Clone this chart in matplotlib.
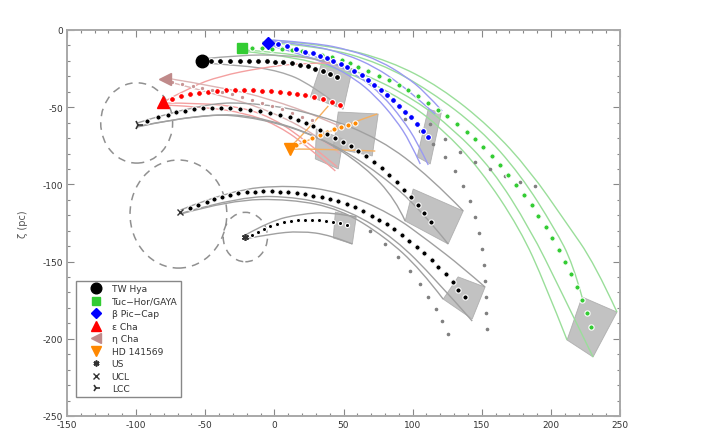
import matplotlib
matplotlib.use('Agg')
import matplotlib.pyplot as plt
from matplotlib.patches import Polygon, Ellipse, PathPatch
from matplotlib.path import Path
from matplotlib.lines import Line2D
from matplotlib.ticker import MultipleLocator

plt.rcParams['axes.unicode_minus'] = False

# present-day positions (xi, zeta) in pc
names = ['TW Hya', 'Tuc\u2212Hor/GAYA', '\u03b2 Pic\u2212Cap', '\u03b5 Cha', '\u03b7 Cha',
         'HD 141569', 'US', 'UCL', 'LCC']
start_xi = [-52.7, -23.1, -4.3, -80.2, -78.8, 11.6, -21.0, -67.9, -99.0]
start_zeta = [-20.1, -11.7, -8.4, -46.6, -31.7, -77.1, -134.1, -117.9, -61.5]

# traced-back centre orbits (one dot per step)
twhya_xi = [-45.5, -39.0, -31.8, -24.6, -18.1, -11.6, -5.1, 0.7, 6.5, 13.0, 18.8, 24.6, 29.6, 35.4, 40.5, 45.5]
twhya_zeta = [-20.1, -20.1, -20.1, -20.1, -20.1, -20.1, -20.1, -20.7, -20.7, -21.4, -22.7, -23.3, -25.3, -26.6, -28.5, -30.4]

tuchor_xi = [-15.9, -8.7, -1.4, 5.8, 13.0, 20.2, 27.5, 34.7, 41.9, 49.1, 54.9, 60.7, 67.9, 75.9, 83.1, 90.3,
             96.8, 104.0, 111.3, 118.5, 125.0, 132.2, 139.4, 145.2, 151.0, 157.5, 163.3, 169.1, 174.8, 180.6,
             186.4, 190.7, 196.5, 200.9, 205.9, 210.2, 214.6, 218.9, 222.5, 226.1, 229.0]
tuchor_zeta = [-11.7, -11.7, -12.3, -12.3, -13.0, -13.6, -14.9, -16.2, -17.5, -19.4, -21.4, -24.0, -26.6, -29.8,
               -32.4, -35.6, -38.9, -42.7, -47.3, -51.8, -55.7, -60.9, -66.1, -70.6, -75.8, -81.6, -87.4, -93.9,
               -100.4, -106.9, -113.3, -120.5, -127.6, -134.7, -142.5, -150.3, -158.1, -166.5, -174.9, -183.3, -192.4]

bpic_xi = [2.9, 9.4, 15.9, 22.4, 28.2, 33.2, 38.3, 42.6, 48.4, 52.7, 57.8, 63.6, 67.9, 72.3, 77.3, 81.6, 86.0,
           90.3, 94.6, 99.0, 103.3, 107.7, 111.3]
bpic_zeta = [-9.1, -10.4, -12.3, -14.2, -14.9, -16.8, -18.1, -20.1, -22.0, -24.0, -26.6, -29.1, -32.4, -35.6,
             -38.9, -42.1, -45.3, -49.2, -53.1, -56.3, -60.9, -65.4, -69.3]

echa_xi = [-73.7, -67.2, -60.7, -54.2, -47.7, -41.2, -34.7, -28.2, -21.7, -15.2, -8.7, -2.2, 4.3, 10.8, 16.6,
           22.4, 28.9, 35.4, 41.9, 47.7]
echa_zeta = [-44.7, -42.7, -41.5, -40.8, -40.2, -39.5, -38.9, -38.9, -38.9, -38.9, -39.5, -39.5, -40.2, -40.8,
             -41.5, -42.1, -43.4, -44.7, -46.6, -48.6]

etacha_xi = [-73.7, -66.5, -59.2, -52.0, -44.8, -37.6, -30.3, -23.1, -15.9, -8.7, -1.4, 5.8, 13.0, 20.2, 27.5]
etacha_zeta = [-33.7, -35.0, -36.3, -37.6, -38.9, -40.2, -41.5, -43.4, -45.3, -47.3, -49.2, -51.2, -53.8, -56.4, -58.3]

hd_xi = [15.9, 21.7, 27.5, 33.2, 38.3, 43.4, 48.4, 53.5, 58.5]
hd_zeta = [-74.5, -71.9, -70.0, -68.0, -66.1, -64.1, -62.8, -61.5, -60.2]

us_xi = [-15.9, -11.6, -7.2, -2.9, 2.2, 7.2, 12.3, 17.3, 22.4, 27.5, 32.5, 37.6, 42.6, 47.7, 52.7]
us_zeta = [-132.8, -130.8, -128.9, -126.9, -125.7, -124.4, -123.7, -123.1, -123.1, -123.1, -123.1, -123.7,
           -124.4, -125.0, -126.3]

ucl_xi = [-60.7, -54.9, -48.4, -43.4, -37.6, -31.8, -26.0, -19.5, -13.7, -7.9, -1.4, 4.3, 10.1, 16.6, 22.4,
          28.2, 34.7, 40.5, 46.2, 52.7, 58.5, 64.3, 70.8, 75.9, 81.6, 86.7, 92.5, 97.5, 103.3, 108.4, 114.2,
          118.5, 124.3, 129.3, 132.9, 138.0]
ucl_zeta = [-115.3, -113.3, -111.4, -109.5, -108.2, -106.9, -105.6, -104.9, -104.9, -104.3, -104.3, -104.9,
            -104.9, -105.6, -106.2, -107.5, -108.2, -109.5, -110.8, -112.7, -114.6, -117.2, -120.5, -123.1,
            -125.7, -128.9, -132.8, -136.7, -140.5, -144.4, -149.0, -153.5, -158.0, -163.2, -168.4, -172.9]

lcc_xi = [-91.8, -84.5, -77.3, -70.8, -64.3, -57.8, -51.3, -44.8, -38.3, -31.8, -24.6, -17.3, -10.1, -2.9, 4.3,
          11.6, 17.3, 23.1, 28.2, 33.2, 38.3, 44.1, 49.9, 55.6, 60.7, 66.5, 72.3, 78.0, 83.1, 88.9, 93.9, 99.0,
          104.0, 108.4, 113.4]
lcc_zeta = [-58.9, -56.4, -55.1, -53.1, -52.5, -51.2, -50.5, -50.5, -50.5, -50.5, -51.2, -51.8, -52.5, -53.8,
            -55.1, -56.4, -58.3, -60.2, -62.2, -64.8, -67.4, -70.0, -72.5, -75.1, -78.4, -81.6, -85.5, -89.4,
            -93.9, -98.4, -103.6, -108.2, -113.3, -118.5, -124.4]

# envelope orbits (xi list, zeta list)
tuchor_env = [
    ([-24.6, 18.8, 62.1, 98.3, 121.4, 148.8, 177.7, 195.8, 211.7], [-13.6, -17.5, -30.4, -47.9, -64.1, -90.0, -128.9, -164.5, -200.8]),
    ([-21.0, 22.4, 65.7, 101.9, 129.3, 157.5, 185.0, 206.6, 230.5], [-13.0, -15.5, -28.5, -45.3, -64.1, -90.0, -128.9, -167.8, -211.8]),
    ([-8.7, 33.2, 76.6, 112.7, 148.8, 177.7, 203.0, 216.0, 222.5], [-7.8, -10.4, -21.4, -39.5, -64.1, -93.3, -128.9, -151.6, -172.9]),
    ([-4.3, 40.5, 83.8, 119.9, 156.1, 185.0, 210.2, 231.9, 247.8], [-6.5, -9.7, -20.1, -36.9, -62.8, -91.3, -123.7, -151.6, -182.7]),
]
bpic_env = [
    ([-4.3, 18.8, 40.5, 58.5, 73.0, 87.4, 98.3, 105.5], [-9.7, -15.5, -22.7, -31.7, -42.7, -57.6, -72.5, -86.8]),
    ([-2.9, 22.4, 44.1, 62.1, 78.0, 92.5, 103.3, 111.3], [-9.1, -14.9, -22.0, -30.4, -42.1, -57.6, -72.5, -87.4]),
    ([-2.9, 26.0, 51.3, 73.0, 91.0, 105.5, 116.3], [-7.1, -9.7, -15.5, -24.0, -35.0, -46.0, -54.4]),
    ([-1.4, 29.6, 54.9, 76.6, 94.6, 109.1, 121.4], [-6.5, -8.4, -13.0, -20.1, -29.8, -40.2, -52.5]),
]
twhya_env = [
    ([-52.7, -24.6, 4.3, 33.2, 56.4], [-18.8, -16.2, -16.2, -18.8, -25.3]),
    ([-52.7, -24.6, 4.3, 26.0, 49.8], [-21.4, -22.7, -26.6, -35.0, -51.2]),
]
echa_env = [
    ([-80.2, -60.7, -39.0, -10.1, 18.8, 40.5], [-46.6, -36.9, -29.8, -24.6, -21.4, -21.4]),
    ([-80.2, -53.5, -24.6, -2.9, 18.8, 45.5], [-47.3, -47.3, -49.9, -56.4, -68.7, -88.7]),
    ([-78.8, -49.9, -21.0, 0.7, 22.4, 44.1], [-48.6, -49.9, -53.8, -61.0, -73.9, -91.3]),
]
etacha_env = [
    ([-78.8, -39.0, -2.9, 33.2, 51.3], [-31.1, -36.9, -44.7, -56.4, -64.1]),
    ([-78.8, -39.0, -2.9, 29.6, 47.7], [-33.0, -42.1, -52.5, -67.4, -80.3]),
]
hd_env = [
    ([11.6, 26.0, 39.0], [-75.8, -62.8, -49.2]),
    ([11.6, 40.5, 74.4], [-76.4, -64.8, -54.4]),
    ([11.6, 40.5, 73.0], [-77.1, -77.1, -78.4]),
]
us_env = [
    ([-21.0, -2.9, 18.8, 40.5, 59.2], [-132.8, -123.7, -119.2, -117.9, -121.1]),
    ([-21.0, -2.9, 18.8, 40.5, 56.4], [-135.3, -132.1, -130.2, -132.8, -138.6]),
]
ucl_env = [
    ([-67.9, -31.8, 11.6, 47.7, 83.8, 112.7, 135.8, 152.4], [-116.6, -103.6, -100.4, -104.9, -118.5, -137.4, -153.5, -166.5]),
    ([-67.9, -31.8, 11.6, 47.7, 80.2, 105.5, 122.1], [-119.2, -110.1, -109.5, -116.0, -134.1, -154.8, -174.3]),
    ([-66.5, -24.6, 18.8, 54.9, 87.4, 116.3, 143.1], [-118.5, -107.5, -108.2, -117.2, -135.3, -161.2, -188.5]),
]
lcc_env = [
    ([-99.0, -53.5, -10.1, 33.2, 76.6, 112.7, 136.6], [-60.2, -47.3, -47.3, -55.1, -70.6, -95.2, -117.2]),
    ([-99.0, -53.5, -10.1, 33.2, 65.7, 87.4, 94.6], [-62.8, -53.8, -57.0, -69.3, -88.7, -109.5, -123.7]),
    ([-97.5, -46.2, -2.9, 40.5, 76.6, 105.5, 125.7], [-62.2, -53.1, -57.7, -72.5, -93.3, -116.0, -138.6]),
]

# alternative (sparse) orbit solutions
alt_a_xi = [94.6, 105.5, 114.9, 123.5, 130.8, 136.6, 141.6, 145.2, 148.1, 150.3, 151.7, 152.4, 153.2, 153.2, 153.9]
alt_a_zeta = [-57.6, -65.4, -73.8, -82.3, -91.3, -101.0, -110.8, -121.1, -131.5, -141.8, -152.2, -162.5, -172.9, -183.3, -193.7]
alt_b_xi = [69.4, 80.2, 89.6, 98.3, 105.5, 111.3, 117.0, 121.4, 125.7]
alt_b_zeta = [-130.2, -138.6, -147.0, -156.1, -164.5, -172.9, -180.7, -188.5, -196.9]
alt_c_xi = [112.7, 123.5, 134.4, 145.2, 156.1, 166.9, 177.7, 188.6]
alt_c_zeta = [-60.9, -70.6, -79.0, -85.5, -90.0, -94.6, -98.4, -101.0]

# spread of each group at the end of the integration
end_boxes = [
    [(222.5, -172.9), (247.8, -182.7), (230.5, -211.8), (211.7, -200.8)],
    [(111.3, -51.2), (120.7, -53.7), (112.7, -86.8), (103.3, -82.2)],
    [(34.7, -20.1), (56.4, -25.3), (49.8, -51.2), (26.0, -43.4)],
    [(30.3, -64.1), (49.8, -70.6), (46.2, -90.0), (29.6, -83.5)],
    [(46.2, -53.1), (75.1, -54.4), (70.8, -81.6), (42.6, -76.4)],
    [(44.1, -117.9), (59.2, -121.1), (56.4, -138.6), (42.6, -134.7)],
    [(132.9, -159.9), (152.4, -166.5), (143.1, -187.2), (122.1, -174.3)],
    [(100.4, -103.0), (136.6, -117.2), (125.7, -138.6), (94.6, -123.7)],
]

# Sco-Cen subgroup extents: centre and radius (pc)
sc_centre_xi = [-21.0, -69.4, -99.6]
sc_centre_zeta = [-134.1, -119.2, -60.2]
sc_radius = [16.0, 35.0, 26.0]


def smooth_curve(xs, zs):
    # quadratic Bezier through the orbit vertices (vertices act as control points)
    pts = list(zip(xs, zs))
    verts = [pts[0]]
    codes = [Path.MOVETO]
    for i in range(1, len(pts) - 1):
        mid = ((pts[i][0] + pts[i + 1][0]) / 2, (pts[i][1] + pts[i + 1][1]) / 2)
        if i == len(pts) - 2:
            mid = pts[i + 1]
        verts += [pts[i], mid]
        codes += [Path.CURVE3, Path.CURVE3]
    if len(pts) == 2:
        verts.append(pts[1])
        codes.append(Path.LINETO)
    return Path(verts, codes)


fig = plt.figure(figsize=(7.25, 4.31), dpi=100)
ax = fig.add_axes([0.0924, 0.0325, 0.7628, 0.8956])

for box in end_boxes:
    ax.add_patch(Polygon(box, closed=True, facecolor='#b8b8b8', edgecolor='#a8a8a8',
                         lw=0.6, alpha=0.85, zorder=1))

for cx, cz, r in zip(sc_centre_xi, sc_centre_zeta, sc_radius):
    ax.add_patch(Ellipse((cx, cz), 2 * r, 2 * r, fill=False, ls=(0, (5, 4)),
                         ec='#909090', lw=1.1, zorder=1))

for env, col in [(tuchor_env, '#9ade9a'), (bpic_env, '#9a9af2'), (twhya_env, '#a8a8a8'),
                 (echa_env, '#f4a0a0'), (etacha_env, '#dcb4b4'), (hd_env, '#f6b060'),
                 (us_env, '#a0a0a0'), (ucl_env, '#a0a0a0'), (lcc_env, '#a0a0a0')]:
    for xs, zs in env:
        ax.add_patch(PathPatch(smooth_curve(xs, zs), fill=False, ec=col, lw=1.0, zorder=2))

for xs, zs in [(alt_a_xi, alt_a_zeta), (alt_b_xi, alt_b_zeta), (alt_c_xi, alt_c_zeta)]:
    ax.plot(xs, zs, ls='none', marker='o', ms=1.6, color='#808080', zorder=2)

tracks = [
    (twhya_xi, twhya_zeta, 'black', 4.2),
    (tuchor_xi, tuchor_zeta, '#33cc33', 3.8),
    (bpic_xi, bpic_zeta, '#0000ff', 4.2),
    (echa_xi, echa_zeta, '#ff0000', 4.2),
    (etacha_xi, etacha_zeta, '#c89494', 3.2),
    (hd_xi, hd_zeta, '#ff8800', 3.8),
    (us_xi, us_zeta, 'black', 3.0),
    (ucl_xi, ucl_zeta, 'black', 3.8),
    (lcc_xi, lcc_zeta, 'black', 3.8),
]
for xs, zs, col, ms in tracks:
    ax.plot(xs, zs, ls='none', marker='o', ms=ms, color=col, mec='white', mew=0.8, zorder=3)

styles = [
    dict(marker='o', color='black', ms=9),
    dict(marker='s', color='#33cc33', ms=7),
    dict(marker='D', color='#0000ff', ms=6),
    dict(marker='^', color='#ff0000', ms=9),
    dict(marker='<', color='#c08a8a', ms=8),
    dict(marker='v', color='#ff8800', ms=9),
    dict(marker=(6, 2, 0), color='#333333', ms=5, mew=1.2),
    dict(marker='x', color='#333333', ms=5, mew=1.0),
    dict(marker='4', color='#333333', ms=7, mew=1.2),
]
handles = []
for name, xi, zeta, st in zip(names, start_xi, start_zeta, styles):
    ax.plot([xi], [zeta], ls='none', zorder=4, **st)
    handles.append(Line2D([], [], ls='none', label=name, **st))

leg = ax.legend(handles=handles, loc='lower left', bbox_to_anchor=(0.012, 0.042),
                fontsize=6.6, numpoints=1, handlelength=3.4, handletextpad=0.05,
                labelspacing=0.38, borderpad=0.4, borderaxespad=0.3, fancybox=False,
                framealpha=1, edgecolor='#888888', markerscale=0.85)
leg.get_frame().set_linewidth(1.0)
for t in leg.get_texts():
    t.set_color('#333333')

ax.set_xlim(-150, 250)
ax.set_ylim(-250, 0)
ax.xaxis.set_major_locator(MultipleLocator(50))
ax.xaxis.set_minor_locator(MultipleLocator(10))
ax.yaxis.set_major_locator(MultipleLocator(50))
ax.yaxis.set_minor_locator(MultipleLocator(10))
ax.tick_params(which='both', direction='in', top=True, right=True, colors='#888888',
               labelcolor='#333333', labelsize=6.5, pad=3)
ax.tick_params(which='major', length=5, width=0.8)
ax.tick_params(which='minor', length=2.5, width=0.8)
for sp in ax.spines.values():
    sp.set_color('#a8a8a8')
    sp.set_linewidth(1.4)

ax.set_ylabel('\u03b6 (pc)', fontsize=7, color='#555555', labelpad=10)

fig.savefig('out.png', dpi=100)
